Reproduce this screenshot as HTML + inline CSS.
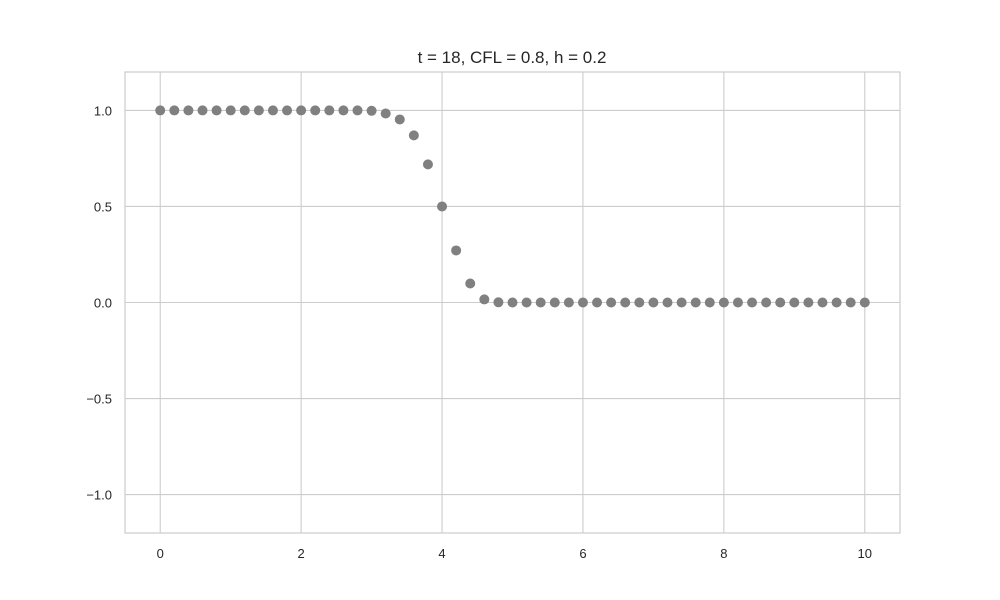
<!DOCTYPE html>
<html><head><meta charset="utf-8"><style>
body{margin:0;background:#fff;}
svg{display:block;font-family:"Liberation Sans",sans-serif;}
</style></head><body>
<svg id="chart" width="1000" height="600">
<rect x="0" y="0" width="1000" height="600" fill="#fff"/>
<g id="grid"></g>
<g id="ticks"></g>
<rect x="125" y="72" width="775" height="461" fill="none" stroke="#ccc" stroke-width="1.2"/>
<g id="points"></g>
<text x="512" y="63" text-anchor="middle" font-size="17" fill="#262626">t = 18, CFL = 0.8, h = 0.2</text>
</svg>
<script>
const xTicks=[0,2,4,6,8,10];
const yTicks=[-1.0,-0.5,0.0,0.5,1.0];
const yTickLabels=["−1.0","−0.5","0.0","0.5","1.0"];
const xValues=[0,0.2,0.4,0.6,0.8,1,1.2,1.4,1.6,1.8,2,2.2,2.4,2.6,2.8,3,3.2,3.4,3.6,3.8,4,4.2,4.4,4.6,4.8,5,5.2,5.4,5.6,5.8,6,6.2,6.4,6.6,6.8,7,7.2,7.4,7.6,7.8,8,8.2,8.4,8.6,8.8,9,9.2,9.4,9.6,9.8,10];
const yValues=[1,1,1,1,1,1,1,1,1,1,1,1,1,1,1,0.998,0.984,0.953,0.87,0.719,0.5,0.271,0.099,0.016,0.001,0,0,0,0,0,0,0,0,0,0,0,0,0,0,0,0,0,0,0,0,0,0,0,0,0,0];
const X0=125,X1=900,Y0=72,Y1=533,xmin=-0.5,xmax=10.5,ymin=-1.2,ymax=1.2;
const sx=v=>X0+(v-xmin)/(xmax-xmin)*(X1-X0);
const sy=v=>Y1-(v-ymin)/(ymax-ymin)*(Y1-Y0);
const NS="http://www.w3.org/2000/svg";
const grid=document.getElementById('grid'),ticks=document.getElementById('ticks'),pts=document.getElementById('points');
function mk(tag,attrs){const e=document.createElementNS(NS,tag);for(const k in attrs)e.setAttribute(k,attrs[k]);return e;}
xTicks.forEach(t=>{
  const l=mk('line',{x1:sx(t),x2:sx(t),y1:Y0,y2:Y1,stroke:'#ccc','stroke-width':1.1});
  
  
  grid.appendChild(l);
  const tx=mk('text',{x:sx(t),y:Y1+25,'text-anchor':'middle','font-size':13,fill:'#262626'});
  tx.textContent=t;
  
  
  ticks.appendChild(tx);
});
yTicks.forEach((t,i)=>{
  const l=mk('line',{x1:X0,x2:X1,y1:sy(t),y2:sy(t),stroke:'#ccc','stroke-width':1.1});
  
  
  grid.appendChild(l);
  const tx=mk('text',{x:X0-13,y:sy(t)+5,'text-anchor':'end','font-size':13,fill:'#262626'});
  tx.textContent=yTickLabels[i];
  
  
  ticks.appendChild(tx);
});
xValues.forEach((x,i)=>{
  const c=mk('circle',{cx:sx(x),cy:sy(yValues[i]),r:5,fill:'#808080'});
  
  
  pts.appendChild(c);
});
</script>
</body></html>
